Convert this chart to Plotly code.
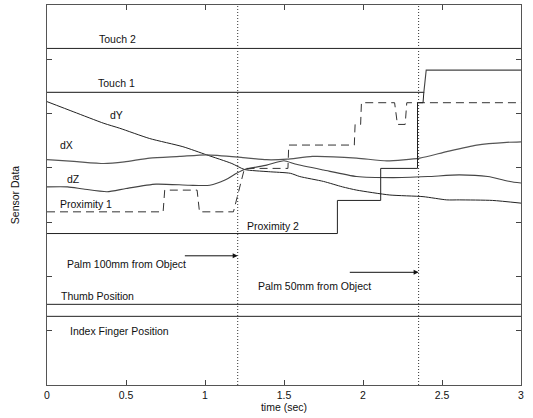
import plotly.graph_objects as go

# ---- data (time in sec, sensor value in stacked plot units) ----
dY_t = [0, 0.17, 0.36, 0.46, 0.65, 0.86, 1.01, 1.17, 1.25, 1.40, 1.54, 1.60, 1.75, 1.87, 1.96, 2.17, 2.38, 2.53, 2.61, 2.82, 3.0]
dY_v = [5.22, 5.03, 4.82, 4.73, 4.54, 4.39, 4.24, 4.08, 3.97, 3.93, 3.90, 3.84, 3.75, 3.65, 3.59, 3.50, 3.47, 3.41, 3.41, 3.40, 3.35]

dX_t = [0, 0.17, 0.36, 0.49, 0.65, 0.84, 1.01, 1.24, 1.39, 1.52, 1.68, 1.96, 2.15, 2.36, 2.53, 2.72, 2.91, 3.0]
dX_v = [4.15, 4.12, 4.08, 4.11, 4.18, 4.21, 4.24, 4.19, 4.15, 4.16, 4.21, 4.18, 4.13, 4.18, 4.30, 4.42, 4.47, 4.48]

dZ_t = [0, 0.13, 0.23, 0.38, 0.50, 0.69, 0.90, 1.03, 1.13, 1.20, 1.25, 1.39, 1.50, 1.57, 1.75, 1.96, 2.19, 2.41, 2.61, 2.79, 2.93, 3.0]
dZ_v = [3.65, 3.65, 3.61, 3.56, 3.62, 3.70, 3.68, 3.68, 3.78, 3.90, 3.97, 4.05, 4.13, 4.07, 3.96, 3.84, 3.82, 3.84, 3.87, 3.84, 3.75, 3.72]

prox1_t = [0, 0.735, 0.745, 0.95, 0.965, 1.18, 1.25, 1.525, 1.53, 1.945, 1.95, 1.985, 1.99, 2.20, 2.218, 2.267, 2.277, 3.0]
prox1_v = [3.19, 3.19, 3.59, 3.59, 3.19, 3.19, 3.99, 3.99, 4.42, 4.42, 4.80, 4.80, 5.20, 5.20, 4.80, 4.80, 5.20, 5.20]

prox2_t = [0, 1.838, 1.838, 2.112, 2.112, 2.345, 2.345, 2.38, 2.385]
prox2_v = [2.79, 2.79, 3.40, 3.40, 3.99, 3.99, 5.20, 5.20, 5.39]

touch1_t = [0, 2.385, 2.40, 3.0]
touch1_v = [5.39, 5.39, 5.80, 5.80]

touch2_t = [0, 3.0]
touch2_v = [6.20, 6.20]

thumb_t = [0, 3.0]
thumb_v = [1.486, 1.486]

index_t = [0, 3.0]
index_v = [1.265, 1.265]

event_times = [1.207, 2.352]

x_ticks = [0, 0.5, 1, 1.5, 2, 2.5, 3]
x_tick_labels = ["0", "0.5", "1", "1.5", "2", "2.5", "3"]
y_ticks = [1, 2, 3, 4, 5, 6]

label_texts = ["Touch 2", "Touch 1", "dY", "dX", "dZ", "Proximity 1", "Proximity 2",
               "Palm 100mm from Object", "Palm 50mm from Object",
               "Thumb Position", "Index Finger Position"]
label_t = [0.314, 0.31, 0.386, 0.07, 0.114, 0.07, 1.253, 0.114, 1.323, 0.076, 0.133]
label_v = [6.37, 5.57, 4.97, 4.42, 3.79, 3.33, 2.92, 2.22, 1.83, 1.645, 1.00]

arrow_start_t = [0.863, 1.907]
arrow_end_t = [1.207, 2.352]
arrow_v = [2.38, 2.076]

# ---- figure ----
FONT = "Liberation Sans, Arial, Helvetica"
fig = go.Figure()
solid = dict(color="#222222", width=1)

fig.add_trace(go.Scatter(x=touch2_t, y=touch2_v, mode="lines", line=solid))
fig.add_trace(go.Scatter(x=touch1_t, y=touch1_v, mode="lines", line=dict(color="#444444", width=1.1)))
fig.add_trace(go.Scatter(x=dY_t, y=dY_v, mode="lines", line=dict(color="#222222", width=1, shape="spline", smoothing=0.6)))
fig.add_trace(go.Scatter(x=dX_t, y=dX_v, mode="lines", line=dict(color="#555555", width=1.2, shape="spline", smoothing=0.6)))
fig.add_trace(go.Scatter(x=dZ_t, y=dZ_v, mode="lines", line=dict(color="#444444", width=1.1, shape="spline", smoothing=0.6)))
fig.add_trace(go.Scatter(x=prox1_t, y=prox1_v, mode="lines", line=dict(color="#333333", width=1, dash="8px,5px")))
fig.add_trace(go.Scatter(x=prox2_t, y=prox2_v, mode="lines", line=solid))
fig.add_trace(go.Scatter(x=thumb_t, y=thumb_v, mode="lines", line=solid))
fig.add_trace(go.Scatter(x=index_t, y=index_v, mode="lines", line=solid))

for t in event_times:
    fig.add_shape(type="line", xref="x", yref="y", x0=t, x1=t, y0=0, y1=7,
                  line=dict(color="#333333", width=1, dash="1px,2px"))

for txt, t, v in zip(label_texts, label_t, label_v):
    fig.add_annotation(x=t, y=v, xref="x", yref="y", text=txt, showarrow=False,
                       xanchor="left", yanchor="middle",
                       font=dict(family=FONT, size=10.5, color="#111111"))

for s, e, v in zip(arrow_start_t, arrow_end_t, arrow_v):
    fig.add_annotation(x=e, y=v, ax=s, ay=v, xref="x", yref="y", axref="x", ayref="y",
                       text="", showarrow=True, arrowhead=2, arrowsize=1, arrowwidth=1,
                       arrowcolor="#111111", standoff=0, startstandoff=0)

fig.update_layout(
    width=533, height=418,
    margin=dict(l=47, r=12, t=5, b=33),
    paper_bgcolor="white", plot_bgcolor="white",
    showlegend=False,
    font=dict(family=FONT, size=10.5, color="#111111"),
)
fig.update_xaxes(range=[0, 3], tickvals=x_ticks, ticktext=x_tick_labels,
                 ticks="inside", ticklen=5, tickcolor="#444444", mirror="allticks",
                 showline=True, linecolor="#555555", linewidth=1,
                 showgrid=False, zeroline=False,
                 title=dict(text="time (sec)", standoff=3, font=dict(size=10.5)),
                 tickfont=dict(size=10.5))
fig.update_yaxes(range=[0, 7], tickvals=y_ticks, showticklabels=False,
                 ticks="inside", ticklen=5, tickcolor="#444444", mirror="allticks",
                 showline=True, linecolor="#555555", linewidth=1,
                 showgrid=False, zeroline=False,
                 title=dict(text="Sensor Data", standoff=24, font=dict(size=10.5)))

fig.write_html("out.html", config={"displayModeBar": False},
               post_script="document.body.style.margin='0';")
